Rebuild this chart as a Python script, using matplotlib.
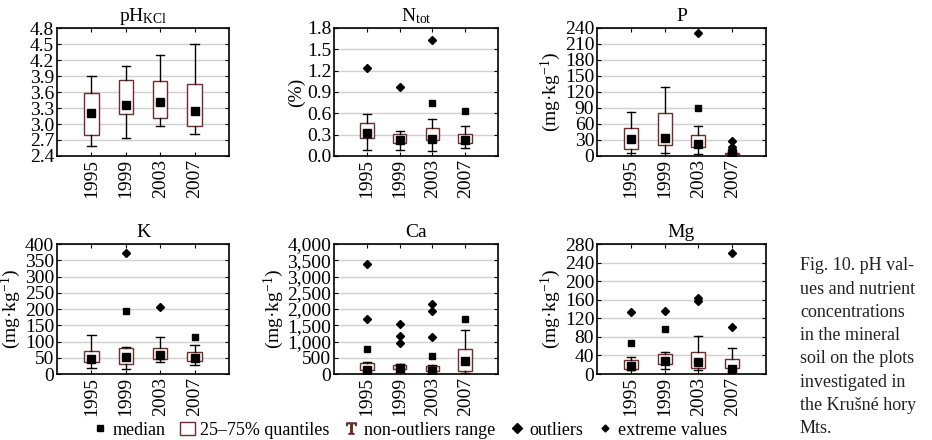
import numpy as np
import matplotlib
matplotlib.use('Agg')
from matplotlib import pyplot as plt
from matplotlib.lines import Line2D
from matplotlib.patches import Patch
from matplotlib.ticker import FuncFormatter

plt.rcParams['font.family'] = ['Liberation Serif', 'DejaVu Serif']
plt.rcParams['mathtext.fontset'] = 'custom'
plt.rcParams['mathtext.rm'] = 'Liberation Serif'
plt.rcParams['mathtext.it'] = 'Liberation Serif:italic'

years = ['1995', '1999', '2003', '2007']

# (whisker low, q1, median, q3, whisker high) per year
ph_stats = [(2.59, 2.79, 3.21, 3.58, 3.90),
            (2.74, 3.18, 3.36, 3.83, 4.08),
            (2.96, 3.11, 3.41, 3.81, 4.30),
            (2.82, 2.96, 3.24, 3.75, 4.50)]
ph_out = [[], [], [], []]
ph_ext = [[], [], [], []]

n_stats = [(0.09, 0.26, 0.33, 0.47, 0.59),
           (0.09, 0.18, 0.22, 0.31, 0.35),
           (0.07, 0.22, 0.24, 0.39, 0.52),
           (0.11, 0.18, 0.22, 0.31, 0.42)]
n_out = [[], [], [0.75], [0.635]]
n_ext = [[1.24], [0.97], [1.63], []]

p_stats = [(6, 14, 31, 52, 83),
           (6, 21, 34, 81, 130),
           (4, 17, 22, 39, 56),
           (2, 3, 5, 6, 7)]
p_out = [[], [], [90], [9]]
p_ext = [[], [], [230], [28, 17, 12]]

k_stats = [(18, 36, 47, 72, 121),
           (15, 32, 52, 80, 82),
           (36, 46, 59, 80, 113),
           (27, 39, 48, 68, 88)]
k_out = [[], [193], [], [114]]
k_ext = [[], [372], [205], []]

ca_stats = [(40, 110, 130, 330, 380),
            (50, 150, 170, 290, 300),
            (20, 90, 100, 260, 290),
            (40, 100, 400, 760, 1340)]
ca_out = [[769], [], [544], [1700]]
ca_ext = [[3385, 1692], [1538, 1179, 954], [2154, 1928, 1128], []]

mg_stats = [(9, 11, 16.5, 30, 36),
            (11, 22, 29, 43, 47),
            (9, 13, 26, 47, 81),
            (6, 13, 11.5, 33, 56)]
mg_out = [[67], [97], [], []]
mg_ext = [[133], [135], [164, 158], [260, 100.5]]

panels = [
    ('pH$_{\\mathrm{KCl}}$', None, ph_stats, ph_out, ph_ext, (2.4, 4.8), 0.3, '{:.1f}'),
    ('N$_{\\mathrm{tot}}$', '(%)', n_stats, n_out, n_ext, (0, 1.8), 0.3, '{:.1f}'),
    ('P', '(mg·kg$^{-1}$)', p_stats, p_out, p_ext, (0, 240), 30, '{:.0f}'),
    ('K', '(mg·kg$^{-1}$)', k_stats, k_out, k_ext, (0, 400), 50, '{:.0f}'),
    ('Ca', '(mg·kg$^{-1}$)', ca_stats, ca_out, ca_ext, (0, 4000), 500, '{:,.0f}'),
    ('Mg', '(mg·kg$^{-1}$)', mg_stats, mg_out, mg_ext, (0, 280), 40, '{:.0f}'),
]

W, H = 932, 440
rects = [(57, 28, 172, 128), (334, 28, 164, 128), (597, 28, 169, 128),
         (57, 244, 172, 130), (334, 244, 164, 130), (597, 244, 169, 130)]
box_col = '#6e2c2c'

fig = plt.figure(figsize=(W / 100, H / 100), dpi=100)

for (title, ylab, stats, outl, extr, ylim, step, fmt), (x, y, w, h) in zip(panels, rects):
    ax = fig.add_axes([x / W, 1 - (y + h) / H, w / W, h / H])
    bxp = []
    for s in stats:
        bxp.append(dict(whislo=s[0], q1=s[1], med=s[2], q3=s[3], whishi=s[4], fliers=[]))
    pos = np.arange(1, len(years) + 1)
    ax.bxp(bxp, positions=pos, widths=0.42, capwidths=0.24, showfliers=False,
           patch_artist=True,
           boxprops=dict(facecolor='white', edgecolor=box_col, linewidth=1.0),
           whiskerprops=dict(color='black', linewidth=1.0),
           capprops=dict(color='black', linewidth=1.0),
           medianprops=dict(linewidth=0), zorder=3)
    ax.plot(pos, [s[2] for s in stats], 's', color='black', ms=6, zorder=5)
    for p, vals in zip(pos, outl):
        ax.plot([p] * len(vals), vals, 's', color='black', ms=4.5, zorder=5)
    for p, vals in zip(pos, extr):
        ax.plot([p] * len(vals), vals, 'D', color='black', ms=3.6, zorder=5)

    ax.set_xlim(0, 5)
    ax.set_ylim(*ylim)
    ax.set_yticks(np.arange(ylim[0], ylim[1] + step / 2, step))
    ax.yaxis.set_major_formatter(FuncFormatter(lambda v, _, f=fmt: f.format(v)))
    ax.set_xticks(pos)
    ax.set_xticklabels(years, rotation=90)
    ax.grid(axis='y', color='#d0d0d0', linewidth=1.0, zorder=0)
    ax.set_axisbelow(True)
    ax.tick_params(direction='in', length=3, top=True, right=True, labelsize=14,
                   pad=2, width=0.8)
    for sp in ax.spines.values():
        sp.set_linewidth(1.2)
    ax.set_title(title, fontsize=14, pad=5)
    if ylab:
        ax.set_ylabel(ylab, fontsize=14, labelpad=1)

# legend at the bottom
handles = [
    Line2D([], [], marker='s', color='black', ls='none', ms=5),
    Patch(facecolor='white', edgecolor=box_col, linewidth=1.0),
    Line2D([], [], marker='$\\mathrm{T}$', color=box_col, ls='none', ms=8),
    Line2D([], [], marker='D', color='black', ls='none', ms=5),
    Line2D([], [], marker='D', color='black', ls='none', ms=3.5),
]
labels = ['median', '25–75% quantiles', 'non-outliers range', 'outliers', 'extreme values']
fig.legend(handles, labels, loc='center left', bbox_to_anchor=(84 / W, 1 - 430 / H),
           ncol=5, frameon=False, fontsize=13, handlelength=0.8, handletextpad=0.3,
           columnspacing=0.8, borderpad=0)

caption = ['Fig. 10. pH val-', 'ues and nutrient', 'concentrations', 'in the mineral',
           'soil on the plots', 'investigated in', 'the Krušné hory', 'Mts.']
for i, line in enumerate(caption):
    fig.text(800 / W, 1 - (266 + 23.2 * i) / H, line, fontsize=13,
             va='center', ha='left', color='#222222')

fig.savefig('out.png', dpi=100)
